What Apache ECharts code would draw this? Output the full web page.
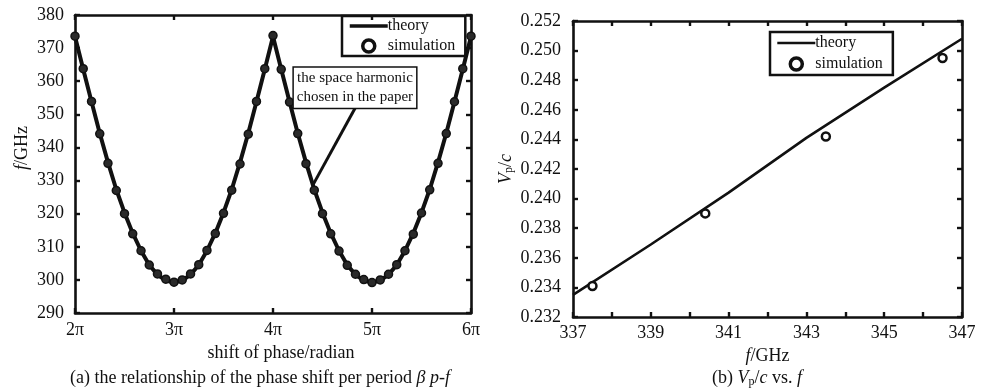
<!DOCTYPE html>
<html>
<head>
<meta charset="utf-8">
<script src="https://cdn.jsdelivr.net/npm/echarts@6/dist/echarts.min.js"></script>
<style>html,body{margin:0;padding:0;background:#fff}#c{width:986px;height:392px}</style>
</head>
<body>
<div id="c"></div>
<script>
// ---- (a) phase shift per period vs f ----
var phaseTicks = [2, 3, 4, 5, 6]; // in units of pi
var phaseA = [2.000,2.083,2.167,2.250,2.333,2.417,2.500,2.583,2.667,2.750,2.833,2.917,3.000,
  3.083,3.167,3.250,3.333,3.417,3.500,3.583,3.667,3.750,3.833,3.917,4.000,
  4.083,4.167,4.250,4.333,4.417,4.500,4.583,4.667,4.750,4.833,4.917,5.000,
  5.083,5.167,5.250,5.333,5.417,5.500,5.583,5.667,5.750,5.833,5.917,6.000];
var theoryA = [373.5,363.6,353.8,344.3,335.5,327.3,320.3,314.1,308.8,304.5,301.6,299.8,299.2,
  299.8,301.6,304.5,308.8,314.1,320.3,327.3,335.5,344.3,353.8,363.6,373.5,
  363.6,353.8,344.3,335.5,327.3,320.3,314.1,308.8,304.5,301.6,299.8,299.2,
  299.8,301.6,304.5,308.8,314.1,320.3,327.3,335.5,344.3,353.8,363.6,373.5];
var simA = [373.6,363.8,353.9,344.1,335.2,327.0,320.0,313.9,308.8,304.5,301.8,300.2,299.3,
  300.0,301.8,304.6,308.9,314.0,320.1,327.1,335.0,344.0,353.9,363.8,373.8,
  363.6,353.7,344.2,335.1,327.1,320.0,313.9,308.7,304.4,301.7,300.1,299.2,
  300.0,301.7,304.6,308.8,313.8,320.2,327.2,335.2,344.2,353.8,363.8,373.6];
var annotText = 'the space harmonic\nchosen in the paper';
var annotBox = [4.828, 358.0];
var annotLine = [[4.83, 351.9], [4.404, 328.7]];

// ---- (b) Vp/c vs f ----
var freqB = [337, 339, 341, 343, 345, 347];
var theoryB = [0.2335, 0.2369, 0.2404, 0.2441, 0.2475, 0.2508];
var simFreqB = [337.5, 340.4, 343.5, 346.5];
var simB = [0.2341, 0.2390, 0.2442, 0.2495];

var FONT = '"Liberation Serif", "DejaVu Serif", serif';
var INK = '#111';

function pairs(xs, ys) { return xs.map(function (x, i) { return [x, ys[i]]; }); }

function baseAxis(extra) {
  var o = {
    type: 'value',
    axisLine: { show: true, onZero: false, lineStyle: { color: INK, width: 2.6 } },
    axisTick: { show: true, inside: true, length: 5, lineStyle: { color: INK, width: 2.4 } },
    splitLine: { show: false },
    axisLabel: { color: INK, fontFamily: FONT, fontSize: 18 },
    nameTextStyle: { color: INK, fontFamily: FONT, fontSize: 18 }
  };
  for (var k in extra) o[k] = extra[k];
  return o;
}

var chart = echarts.init(document.getElementById('c'), null, { renderer: 'canvas' });

var hideSym = { color: 'rgba(0,0,0,0)', borderColor: 'rgba(0,0,0,0)', borderWidth: 0, opacity: 0 };
var ringSym = { color: '#fff', borderColor: INK, borderWidth: 3.5 };

var option = {
  backgroundColor: '#fff',
  animation: false,
  grid: [
    { left: 75, right: 515, top: 15, bottom: 79 },
    { left: 573, right: 24, top: 21, bottom: 75 }
  ],
  xAxis: [
    baseAxis({ gridIndex: 0, position: 'bottom', min: 2, max: 6, interval: 1,
      axisLabel: { color: INK, fontFamily: FONT, fontSize: 18, margin: 8, formatter: function (v) { return v + 'π'; } },
      name: 'shift of phase/radian', nameLocation: 'middle', nameGap: 27,
      nameTextStyle: { color: INK, fontFamily: FONT, fontSize: 18, padding: [0, 0, 0, 16] } }),
    baseAxis({ gridIndex: 0, position: 'top', min: 2, max: 6, interval: 1, axisLabel: { show: false } }),
    baseAxis({ gridIndex: 1, position: 'bottom', min: 337, max: 347, interval: 1,
      axisLabel: { color: INK, fontFamily: FONT, fontSize: 18, margin: 7, formatter: function (v) { return (v % 2 === 1) ? String(v) : ''; } },
      name: '{i|f}/GHz', nameLocation: 'middle', nameGap: 26,
      nameTextStyle: { color: INK, fontFamily: FONT, fontSize: 18, rich: { i: { fontStyle: 'italic', fontFamily: FONT, fontSize: 18, color: INK } } } }),
    baseAxis({ gridIndex: 1, position: 'top', min: 337, max: 347, interval: 1, axisLabel: { show: false } })
  ],
  yAxis: [
    baseAxis({ gridIndex: 0, position: 'left', min: 290, max: 380, interval: 10,
      axisLabel: { color: INK, fontFamily: FONT, fontSize: 18, margin: 11 },
      name: '{i|f}/GHz', nameLocation: 'middle', nameGap: 44,
      nameTextStyle: { color: INK, fontFamily: FONT, fontSize: 18, padding: [0, 0, 0, 32], rich: { i: { fontStyle: 'italic', fontFamily: FONT, fontSize: 18, color: INK } } } }),
    baseAxis({ gridIndex: 0, position: 'right', min: 290, max: 380, interval: 10, axisLabel: { show: false } }),
    baseAxis({ gridIndex: 1, position: 'left', min: 0.232, max: 0.252, interval: 0.002,
      axisLabel: { color: INK, fontFamily: FONT, fontSize: 18, margin: 12, formatter: function (v) { return v.toFixed(3); } },
      name: '{i|V}{s|p}/{i|c}', nameLocation: 'middle', nameGap: 58,
      nameTextStyle: { color: INK, fontFamily: FONT, fontSize: 18, rich: {
        i: { fontStyle: 'italic', fontFamily: FONT, fontSize: 18, color: INK },
        s: { fontFamily: FONT, fontSize: 12, color: INK, verticalAlign: 'bottom', padding: [6, 0, 0, 0] } } } }),
    baseAxis({ gridIndex: 1, position: 'right', min: 0.232, max: 0.252, interval: 0.002, axisLabel: { show: false } })
  ],
  legend: [
    { left: 342, top: 16, orient: 'vertical',
      data: [{ name: 'theory_a', itemStyle: hideSym, lineStyle: { width: 3.5, color: INK } },
             { name: 'simulation_a', itemStyle: ringSym }],
      borderColor: INK, borderWidth: 2.5, padding: [2, 10, 2, 6], itemGap: 4, itemWidth: 38, itemHeight: 12,
      formatter: function (n) { return n.split('_')[0]; },
      textStyle: { color: INK, fontFamily: FONT, fontSize: 16, padding: [0, 0, 0, -5] } },
    { left: 770, top: 32, orient: 'vertical',
      data: [{ name: 'theory_b', itemStyle: hideSym, lineStyle: { width: 2.6, color: INK } },
             { name: 'simulation_b', itemStyle: ringSym }],
      borderColor: INK, borderWidth: 2.5, padding: [3, 10, 3, 6], itemGap: 5, itemWidth: 38, itemHeight: 12,
      formatter: function (n) { return n.split('_')[0]; },
      textStyle: { color: INK, fontFamily: FONT, fontSize: 16, padding: [0, 0, 0, -5] } }
  ],
  series: [
    { name: 'theory_a', type: 'line', xAxisIndex: 0, yAxisIndex: 0, symbol: 'none',
      data: pairs(phaseA, theoryA), lineStyle: { color: INK, width: 4 }, itemStyle: { color: INK }, z: 3,
      markLine: { silent: true, symbol: 'none', label: { show: false },
        lineStyle: { color: INK, width: 3, type: 'solid' },
        data: [[{ coord: annotLine[0] }, { coord: annotLine[1] }]] },
      markPoint: { silent: true, symbol: 'rect', symbolSize: 1, itemStyle: { color: 'rgba(0,0,0,0)' },
        label: { show: true, position: 'inside', formatter: annotText, color: INK, fontFamily: FONT, fontSize: 15,
          lineHeight: 19, backgroundColor: '#fff', borderColor: INK, borderWidth: 1.5, padding: [1, 3, 1, 3], align: 'center' },
        data: [{ coord: annotBox }] } },
    { name: 'simulation_a', type: 'scatter', xAxisIndex: 0, yAxisIndex: 0, symbol: 'circle', symbolSize: 8,
      data: pairs(phaseA, simA), itemStyle: { color: '#2a2a2a', borderColor: INK, borderWidth: 1.5, opacity: 1 }, z: 4 },
    { name: 'theory_b', type: 'line', xAxisIndex: 2, yAxisIndex: 2, symbol: 'none',
      data: pairs(freqB, theoryB), lineStyle: { color: INK, width: 2.6 }, itemStyle: { color: INK }, z: 3 },
    { name: 'simulation_b', type: 'scatter', xAxisIndex: 2, yAxisIndex: 2, symbol: 'circle', symbolSize: 8,
      data: pairs(simFreqB, simB), itemStyle: { color: '#fff', borderColor: INK, borderWidth: 2.5, opacity: 1 }, z: 4 }
  ],
  graphic: [
    { type: 'text', style: { x: 260, y: 378, text: '(a) the relationship of the phase shift per period {i|β p-f}',
      textAlign: 'center', textVerticalAlign: 'middle', verticalAlign: 'middle', align: 'center', font: '18px ' + FONT, fill: INK,
      rich: { i: { fontStyle: 'italic', fontFamily: FONT, fontSize: 18, fill: INK } } } },
    { type: 'text', style: { x: 757, y: 378, text: '(b) {i|V}{s|p}/{i|c} vs. {i|f}',
      textAlign: 'center', textVerticalAlign: 'middle', verticalAlign: 'middle', align: 'center', font: '18px ' + FONT, fill: INK,
      rich: { i: { fontStyle: 'italic', fontFamily: FONT, fontSize: 18, fill: INK },
              s: { fontFamily: FONT, fontSize: 12, fill: INK, padding: [8, 0, 0, 0] } } } }
  ]
};
chart.setOption(option);
</script>
</body>
</html>
